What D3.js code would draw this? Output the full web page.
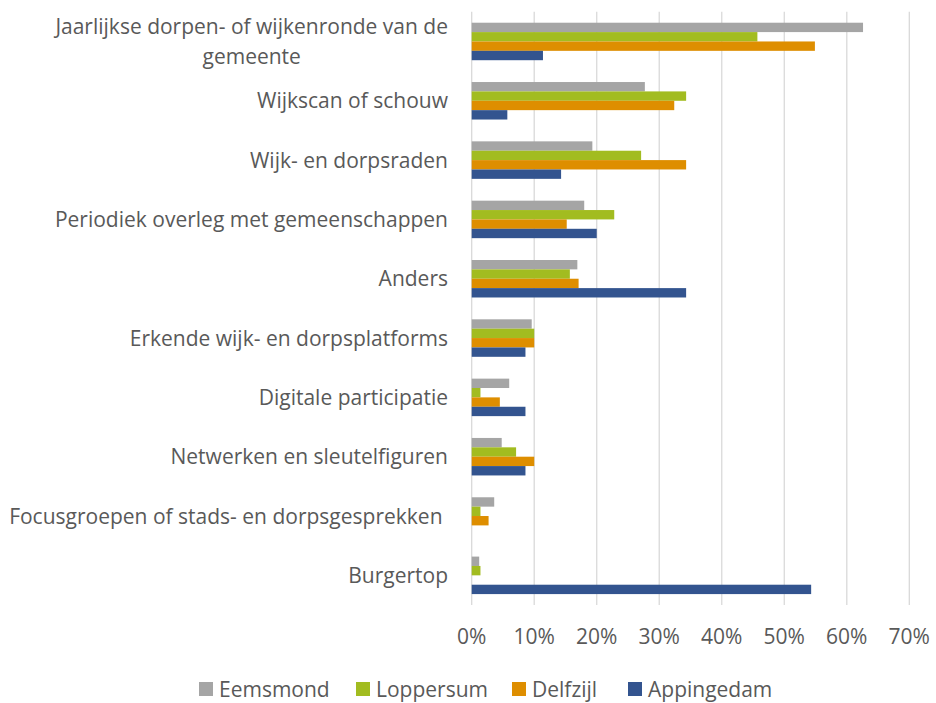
<!DOCTYPE html>
<meta charset="utf-8" />
<script src="https://d3js.org/d3.v7.min.js"></script>
<style>
  body { margin: 0; background: #fff; }
  text { font-family: "Open Sans", sans-serif; fill: #595959; }
</style>
<body>
<div id="chart"></div>
<script>
  // categories, top to bottom
  const categories = [
    "Jaarlijkse dorpen- of wijkenronde van de gemeente",
    "Wijkscan of schouw",
    "Wijk- en dorpsraden",
    "Periodiek overleg met gemeenschappen",
    "Anders",
    "Erkende wijk- en dorpsplatforms",
    "Digitale participatie",
    "Netwerken en sleutelfiguren",
    "Focusgroepen of stads- en dorpsgesprekken ",
    "Burgertop"
  ];
  const series = ["Eemsmond", "Loppersum", "Delfzijl", "Appingedam"];
  const colors = ["#A5A5A5", "#A2BC20", "#DE8E00", "#33548F"];

  // percentages per series, in category order
  const eemsmond   = [62.6, 27.7, 19.3, 18.0, 16.9, 9.6, 6.0, 4.8, 3.6, 1.2];
  const loppersum  = [45.7, 34.3, 27.1, 22.8, 15.7, 10.0, 1.4, 7.1, 1.4, 1.4];
  const delfzijl   = [54.9, 32.4, 34.3, 15.2, 17.1, 10.0, 4.5, 10.0, 2.7, 0];
  const appingedam = [11.4, 5.7, 14.3, 20.0, 34.3, 8.6, 8.6, 8.6, 0, 54.3];
  const values = [eemsmond, loppersum, delfzijl, appingedam];

  const ticks = [0, 10, 20, 30, 40, 50, 60, 70];

  const width = 936, height = 703;
  const plot = {left: 471.7, right: 909.3, top: 11.8, bottom: 605};
  const fontSize = "21px";

  const svg = d3.select("#chart")
    .append("svg")
      .attr("width", width)
      .attr("height", height);

  const x = d3.scaleLinear().domain([0, 70]).range([plot.left, plot.right]);
  const y = d3.scaleBand().domain(categories)
    .range([plot.top, plot.bottom])
    .paddingInner(0.368)
    .paddingOuter(0.184);
  const ySub = d3.scaleBand().domain(series).range([0, y.bandwidth()]);

  // gridlines
  svg.append("g")
    .selectAll("line")
    .data(ticks)
    .join("line")
      .attr("x1", d => x(d)).attr("x2", d => x(d))
      .attr("y1", plot.top).attr("y2", plot.bottom)
      .attr("stroke", "#D9D9D9")
      .attr("stroke-width", 1.3);

  // bars
  const rows = [];
  categories.forEach((c, i) => {
    series.forEach((s, j) => rows.push({cat: c, s: s, j: j, v: values[j][i]}));
  });
  svg.append("g")
    .selectAll("rect")
    .data(rows.filter(d => d.v > 0))
    .join("rect")
      .attr("x", x(0))
      .attr("y", d => y(d.cat) + ySub(d.s))
      .attr("width", d => x(d.v) - x(0))
      .attr("height", ySub.bandwidth())
      .attr("fill", d => colors[d.j]);

  // x axis labels
  svg.append("g")
    .selectAll("text")
    .data(ticks)
    .join("text")
      .attr("x", d => x(d))
      .attr("y", 644)
      .attr("text-anchor", "middle")
      .style("font-size", fontSize)
      .text(d => d3.format(".0%")(d / 100));

  // category labels
  const labelX = 448;
  const labels = svg.append("g")
    .selectAll("text")
    .data(categories)
    .join("text")
      .style("font-size", fontSize)
      .style("white-space", "pre");

  labels.each(function(d, i) {
    const t = d3.select(this);
    const cy = y(d) + y.bandwidth() / 2;
    if (i === 0) {
      // wrapped label: lines centred on each other, block right aligned
      const lines = ["Jaarlijkse dorpen- of wijkenronde van de", "gemeente"];
      const spans = t.selectAll("tspan").data(lines).join("tspan").text(l => l);
      const w = d3.max(spans.nodes(), n => n.getComputedTextLength());
      spans.attr("x", labelX - w / 2)
        .attr("y", (l, k) => cy + (k - 0.5) * 30 + 7.5)
        .attr("text-anchor", "middle");
    } else {
      t.attr("x", labelX).attr("y", cy + 7.5).attr("text-anchor", "end").text(d);
    }
  });

  // legend
  const legendX = [199, 356, 512, 628];
  const legend = svg.append("g")
    .selectAll("g")
    .data(series)
    .join("g")
      .attr("transform", (d, i) => "translate(" + legendX[i] + ",682)");
  legend.append("rect")
    .attr("width", 14).attr("height", 14)
    .attr("fill", (d, i) => colors[i]);
  legend.append("text")
    .attr("x", 20).attr("y", 15)
    .style("font-size", fontSize)
    .text(d => d);
</script>
</body>
